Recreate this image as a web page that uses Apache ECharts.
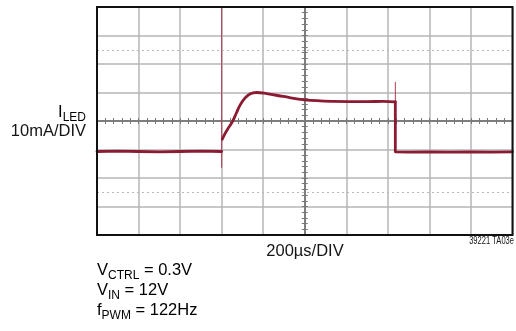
<!DOCTYPE html>
<html><head><meta charset="utf-8">
<script src="https://cdn.jsdelivr.net/npm/echarts@6/dist/echarts.min.js"></script>
<style>html,body{margin:0;padding:0;background:#fff}#c{width:516px;height:331px}</style>
</head><body><div id="c"></div>
<script>
// LED current step response, time relative to screen centre (µs, 200 µs/div)
// and current relative to centre line (mA, 10 mA/div).
const preTime = [-1000, -900, -800, -700, -600, -500, -400];
const preCurrent = [-10.7, -10.6, -10.7, -10.8, -10.7, -10.6, -10.7];
const riseTime = [-397, -385, -370, -348, -329, -312, -288, -264, -232, -183, -103, 0, 138, 298, 380, 436];
const riseCurrent = [-6.4, -4.6, -2.7, -0.2, 2.8, 5.5, 8.0, 9.5, 10.0, 9.6, 8.6, 7.4, 6.9, 6.8, 6.9, 6.7];
const fallTime = [436, 436, 500, 600, 700, 800, 900, 1000];
const fallCurrent = [6.7, -10.8, -10.9, -10.8, -10.9, -10.8, -10.9, -10.8];
// PWM switching-edge transients
const spikeTime = [-400, 436];
const spikeTop = [40, 13.7];
const spikeBottom = [-16.4, -10.8];
// dotted reference rows
const refRows = [25, -25];

const GRID = { left: 97, top: 7, width: 415.5, height: 228 };
const FONT = '"Liberation Sans", Arial, sans-serif';
const TRACE = '#8b1a33';
const AXIS = '#7a7a7a';
const INK = '#151515';

function zip(a, b) { return a.map((v, i) => [v, b[i]]); }

function axisBase(pos, min, max, interval, grid) {
  return {
    type: 'value', position: pos, min: min, max: max, interval: interval,
    axisLabel: { show: false },
    splitLine: { show: grid, lineStyle: { color: '#b6b6b6', width: 1.5 } },
    axisLine: { show: true, onZero: true, lineStyle: { color: AXIS, width: 1.5 } },
    axisTick: { show: true, length: 3, lineStyle: { color: AXIS, width: 1 } },
    minorTick: { show: true, splitNumber: 5, length: 3, lineStyle: { color: AXIS, width: 1 } }
  };
}

// main text + subscript, drawn as rich text
const RICH = {
  m: { fontFamily: FONT, fontSize: 16.5, lineHeight: 18, verticalAlign: 'top', color: INK },
  s: { fontFamily: FONT, fontSize: 12, lineHeight: 12, padding: [8, 0, 0, 0], verticalAlign: 'top', color: INK }
};
function subText(x, y, parts, align) {
  return {
    type: 'text', x: x, y: y, z: 100, silent: true,
    style: {
      text: '{m|' + parts[0] + '}{s|' + parts[1] + '}' + (parts[2] ? '{m|' + parts[2] + '}' : ''),
      align: align, verticalAlign: 'top', rich: RICH
    }
  };
}
function plainText(x, y, text, align, size, sx) {
  return {
    type: 'text', x: x, y: y, z: 100, silent: true, scaleX: sx || 1,
    style: { text: text, align: align, verticalAlign: 'top', fill: INK, font: size + 'px ' + FONT }
  };
}

const chart = echarts.init(document.getElementById('c'), null, { renderer: 'canvas' });

const spikeSeries = spikeTime.map((t, i) => ({
  type: 'line', symbol: 'none', silent: true, z: 4,
  data: [[t, spikeTop[i]], [t, spikeBottom[i]]],
  lineStyle: { color: '#b03a52', width: 1 }
}));

const traceStyle = { color: TRACE, width: 2.8, join: 'round', cap: 'round' };

chart.setOption({
  animation: false,
  backgroundColor: '#fff',
  grid: Object.assign({ show: false }, GRID),
  xAxis: [axisBase('bottom', -1000, 1000, 200, true), axisBase('top', -1000, 1000, 200, false)],
  yAxis: [axisBase('left', -40, 40, 10, true), axisBase('right', -40, 40, 10, false)],
  series: [
    {
      type: 'line', symbol: 'none', silent: true, z: 3,
      data: [],
      markLine: {
        silent: true, symbol: 'none', label: { show: false },
        lineStyle: { color: '#b8b8b8', width: 1, type: [2, 3] },
        data: refRows.map(v => ({ yAxis: v }))
      }
    },
    ...spikeSeries,
    { type: 'line', symbol: 'none', silent: true, z: 5, data: zip(preTime, preCurrent), lineStyle: traceStyle },
    { type: 'line', symbol: 'none', silent: true, z: 5, smooth: 0.4, data: zip(riseTime, riseCurrent), lineStyle: traceStyle },
    { type: 'line', symbol: 'none', silent: true, z: 5, data: zip(fallTime, fallCurrent), lineStyle: traceStyle }
  ],
  graphic: [
    {
      type: 'rect', z: 100, silent: true,
      shape: { x: GRID.left, y: GRID.top, width: GRID.width, height: GRID.height },
      style: { fill: 'none', stroke: '#111', lineWidth: 2 }
    },
    subText(86, 104, ['I', 'LED'], 'right'),
    plainText(86, 123, '10mA/DIV', 'right', 16.5),
    plainText(305, 243, '200µs/DIV', 'center', 16.5),
    plainText(514, 236, '39221 TA03e', 'right', 10.5, 0.72),
    subText(97, 262, ['V', 'CTRL', ' = 0.3V'], 'left'),
    subText(97, 282, ['V', 'IN', ' = 12V'], 'left'),
    subText(97, 302, ['f', 'PWM', ' = 122Hz'], 'left')
  ]
});
</script>
</body></html>
